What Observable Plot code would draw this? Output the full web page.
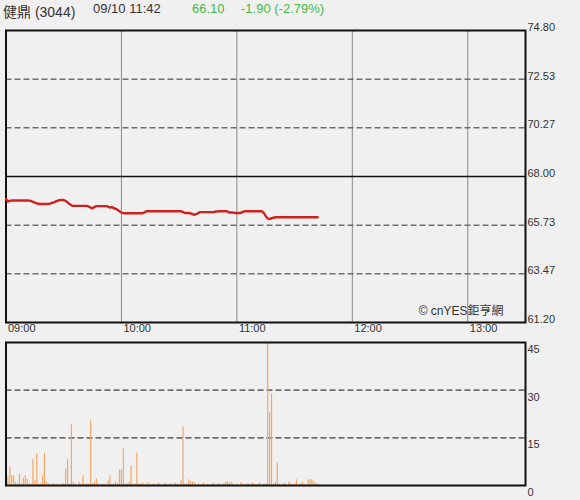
<!DOCTYPE html>
<html>
<head>
<meta charset="utf-8">
<script src="https://cdn.jsdelivr.net/npm/d3@7"></script>
<script src="https://cdn.jsdelivr.net/npm/@observablehq/plot@0.6"></script>
<style>
  html, body { margin: 0; padding: 0; background: #f0f0f0; }
  body { width: 580px; height: 500px; position: relative; overflow: hidden;
         font-family: "Liberation Sans", Arial, "Noto Sans CJK TC", sans-serif; color: #333; }
  #hdr span { position: absolute; top: 1px; font-size: 13px; white-space: nowrap; }
  #price { position: absolute; left: 0; top: 0; }
  #vol { position: absolute; left: 0; top: 338px; }
</style>
</head>
<body>
<div id="hdr"></div>
<div id="price"></div>
<div id="vol"></div>
<script>
// ---- data ----
const stockName = "健鼎 (3044)";
const stamp = "09/10 11:42";
const lastPrice = "66.10";
const change = "-1.90 (-2.79%)";
const prevClose = 68.00;
const credit = "© cnYES鉅亨網";

const timeTicks = [0, 60, 120, 180, 240];           // minutes after 09:00
const timeLabels = ["09:00", "10:00", "11:00", "12:00", "13:00"];
const sessionMinutes = 270;                           // 09:00 - 13:30

const priceTicks = [61.20, 63.47, 65.73, 68.00, 70.27, 72.53, 74.80];
const volTicks = [0, 15, 30, 45];

// one value per minute from 09:00
const prices = [
66.95,66.83,66.87,66.88,66.88,66.88,66.88,66.88,66.88,66.88,
66.88,66.88,66.88,66.86,66.82,66.78,66.75,66.72,66.72,66.72,
66.72,66.72,66.72,66.74,66.77,66.80,66.84,66.88,66.90,66.91,
66.90,66.86,66.80,66.72,66.66,66.63,66.63,66.63,66.63,66.63,
66.63,66.63,66.63,66.60,66.55,66.52,66.58,66.62,66.62,66.62,
66.62,66.62,66.62,66.60,66.55,66.58,66.52,66.50,66.45,66.38,
66.32,66.29,66.29,66.29,66.29,66.29,66.29,66.29,66.29,66.29,
66.29,66.29,66.33,66.38,66.38,66.38,66.38,66.38,66.38,66.38,
66.38,66.38,66.38,66.38,66.38,66.38,66.38,66.38,66.38,66.38,
66.38,66.38,66.35,66.30,66.30,66.30,66.28,66.24,66.22,66.25,
66.30,66.34,66.34,66.34,66.34,66.34,66.34,66.34,66.34,66.37,
66.37,66.38,66.38,66.38,66.38,66.38,66.32,66.32,66.32,66.30,
66.30,66.30,66.30,66.35,66.38,66.38,66.38,66.38,66.38,66.38,
66.38,66.38,66.38,66.38,66.30,66.15,66.05,66.02,66.05,66.08,
66.10,66.10,66.10,66.10,66.10,66.10,66.10,66.10,66.10,66.10,
66.10,66.10,66.10,66.10,66.10,66.10,66.10,66.10,66.10,66.10,
66.10,66.10,66.10
];

const volumes = [
4.9,3,6,3.1,3,1,0.5,3.5,0.5,2.3,
3.1,2,0.5,0.5,8.1,1.5,10,0.5,0.5,3,
10.2,1,0.5,0,0.5,0.5,0,0.5,0,0.5,
0.5,5.2,8.1,0.5,19.1,1,0.5,0,1,0.5,
3.1,0.5,0.5,0.5,20.4,0.5,1,2,0.5,0,
0.5,0.5,0,1.5,3.1,0.5,0.5,1,0.5,4.9,
4.9,11.5,0.5,0.5,1,6.3,0.5,0.5,10.2,0.5,
0.5,0.8,0,0.5,0.8,0,0.5,0.5,0,0.8,
0.5,0,0.5,0.8,0,0.5,0.5,0,0.8,0.5,
0,1.5,18.5,0.5,0.5,1.8,1.2,1,0.8,0,
0.5,0,0.5,0.8,0,0.5,0,0.5,0.8,0,
0.5,0.5,0,0.5,1,1.2,0.8,1,0.5,0,
0.5,0,0.8,0.5,0,0.5,0.5,0,0.8,0.5,
0,0.5,0.8,0,0.5,0.5,45,23,28.8,0.5,
1,7,0.5,0,0.5,0.8,0,1,0.5,0,
0.5,1.8,0,0.5,1,0.5,0,1.8,2,1.8,
1.2,0.5,0.5
];

// ---- header ----
const hdr = document.getElementById("hdr");
[[stockName, 3, "#333", 14], [stamp, 93, "#333", 13], [lastPrice, 192, "#44bb44", 13], [change, 241, "#44bb44", 13]]
  .forEach(([t, x, c, fs]) => {
    const s = document.createElement("span");
    s.textContent = t; s.style.left = x + "px"; s.style.color = c; s.style.fontSize = fs + "px";
    hdr.appendChild(s);
  });

const font = '"Liberation Sans", Arial, "Noto Sans CJK TC", sans-serif';
const pIdx = prices.map((_, i) => i);
const vIdx = volumes.map((_, i) => i);

// ---- price panel ----
const priceChart = Plot.plot({
  width: 580, height: 338,
  marginLeft: 5.5, marginRight: 55, marginTop: 30, marginBottom: 16,
  style: { background: "transparent", fontFamily: font, fontSize: "11px", color: "#333", overflow: "visible" },
  x: { domain: [0, sessionMinutes], axis: null },
  y: { domain: [priceTicks[0], priceTicks[priceTicks.length - 1]], axis: null },
  marks: [
    Plot.ruleX(timeTicks.slice(1), { stroke: "#8a8a8a", strokeWidth: 1 }),
    Plot.ruleY(priceTicks.filter(v => v !== prevClose && v !== priceTicks[0] && v !== priceTicks[priceTicks.length - 1]),
      { stroke: "#6e6e6e", strokeWidth: 1.7, strokeDasharray: "6,3" }),
    Plot.ruleY([prevClose], { stroke: "#111", strokeWidth: 1.6 }),
    Plot.frame({ stroke: "#111", strokeWidth: 2 }),
    Plot.line(pIdx, { x: i => i, y: i => prices[i], stroke: "#cf2020", strokeWidth: 2.4, strokeDasharray: "1.5,1" }),
    Plot.text([credit], { frameAnchor: "bottom-right", dx: -22, dy: -8, textAnchor: "end", fontSize: 12, fill: "#333" }),
    Plot.axisY(priceTicks, { anchor: "right", tickSize: 0, tickPadding: 2, dy: -3,
      tickFormat: d => d.toFixed(2), fontSize: 11 }),
    Plot.axisX(timeTicks, { anchor: "bottom", tickSize: 0, tickPadding: 2, textAnchor: "start", dx: 2,
      tickFormat: (d, i) => timeLabels[i], fontSize: 11 })
  ]
});
document.getElementById("price").appendChild(priceChart);

// ---- volume panel ----
const volChart = Plot.plot({
  width: 580, height: 162,
  marginLeft: 5.5, marginRight: 55, marginTop: 4, marginBottom: 15,
  style: { background: "transparent", fontFamily: font, fontSize: "11px", color: "#333", overflow: "visible" },
  x: { domain: [0, sessionMinutes], axis: null },
  y: { domain: [0, 45], axis: null },
  marks: [
    Plot.ruleY([15, 30], { stroke: "#6e6e6e", strokeWidth: 1.7, strokeDasharray: "6,3" }),
    Plot.ruleX(vIdx.filter(i => volumes[i] > 0), { x: i => i, y1: 0, y2: i => volumes[i], stroke: "#f2a863", strokeWidth: 1.2 }),
    Plot.frame({ stroke: "#111", strokeWidth: 2 }),
    Plot.axisY(volTicks, { anchor: "right", tickSize: 0, tickPadding: 2, dy: 7, fontSize: 11 })
  ]
});
document.getElementById("vol").appendChild(volChart);
</script>
</body>
</html>
